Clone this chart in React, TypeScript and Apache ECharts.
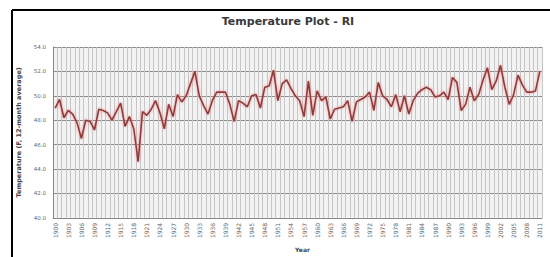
import React, { useEffect, useRef } from "react";
import * as echarts from "echarts";

const startYear = 1900;
const temps: number[] = [
  49.0, 49.7, 48.2, 48.8, 48.5, 47.8, 46.5, 48.0, 47.9, 47.2,
  48.9, 48.8, 48.6, 48.0, 48.7, 49.4, 47.5, 48.3, 47.3, 44.6,
  48.7, 48.4, 48.9, 49.6, 48.6, 47.3, 49.3, 48.3, 50.1, 49.5,
  50.0, 51.0, 52.0, 50.0, 49.2, 48.5, 49.6, 50.3, 50.3, 50.3,
  49.3, 47.9, 49.6, 49.4, 49.1, 50.0, 50.1, 49.0, 50.7, 50.8,
  52.1, 49.6, 51.0, 51.3, 50.6, 50.0, 49.6, 48.3, 51.2, 48.4,
  50.4, 49.6, 49.9, 48.1, 48.9, 49.0, 49.1, 49.6, 47.9, 49.5,
  49.7, 49.9, 50.3, 48.8, 51.1, 50.0, 49.7, 49.1, 50.1, 48.7,
  50.0, 48.5, 49.6, 50.2, 50.5, 50.7, 50.5, 49.9, 50.0, 50.3,
  49.7, 51.5, 51.1, 48.8, 49.3, 50.7, 49.6, 50.1, 51.3, 52.3,
  50.5, 51.2, 52.5, 50.7, 49.3, 50.1, 51.7, 50.9, 50.3, 50.3,
  50.4, 52.0,
];
const years: string[] = temps.map((_, i) => String(startYear + i));
const yTicks = { min: 40, max: 54, interval: 2 };
const titleText = "Temperature Plot - RI";
const yName = "Temperature (F, 12-month average)";
const xName = "Year";

export default function App() {
  const ref = useRef<HTMLDivElement>(null);
  useEffect(() => {
    if (!ref.current) return;
    const chart = echarts.init(ref.current, undefined, { renderer: "svg" });
    chart.setOption({
      animation: false,
      backgroundColor: "#ffffff",
      title: {
        text: titleText,
        left: 283,
        textAlign: "center",
        top: 11,
        textStyle: { fontFamily: "DejaVu Sans", fontSize: 11, fontWeight: "bold", color: "#3a3a3a" },
      },
      graphic: [
        { type: "line", shape: { x1: 12, y1: 10, x2: 550, y2: 10 }, style: { stroke: "#000", lineWidth: 2 } },
        { type: "line", shape: { x1: 12, y1: 10, x2: 12, y2: 257 }, style: { stroke: "#000", lineWidth: 2 } },
      ],
      grid: { left: 53, right: 8, top: 47, bottom: 35, show: true, backgroundColor: "#f3f3f3", borderWidth: 0 },
      xAxis: {
        type: "category",
        data: years,
        boundaryGap: true,
        name: xName,
        nameLocation: "middle",
        nameGap: 27,
        nameTextStyle: { fontFamily: "DejaVu Sans", fontSize: 6, fontWeight: "bold", color: "#444", padding: [0, 0, 0, 10] },
        axisLine: { lineStyle: { color: "#888", width: 1 } },
        axisTick: { show: false },
        axisLabel: { interval: 2, rotate: 90, fontSize: 6, color: "#666", fontFamily: "DejaVu Sans", margin: 5 },
        splitLine: { show: true, interval: 0, lineStyle: { color: "#c6c6c6", width: 1 } },
      },
      yAxis: {
        type: "value",
        min: yTicks.min,
        max: yTicks.max,
        interval: yTicks.interval,
        name: yName,
        nameLocation: "middle",
        nameGap: 20,
        nameTextStyle: { fontFamily: "DejaVu Sans", fontSize: 6.5, fontWeight: "bold", color: "#444" },
        axisLine: { show: true, lineStyle: { color: "#888" } },
        axisTick: { show: false },
        axisLabel: { fontSize: 5.5, color: "#666", fontFamily: "DejaVu Sans", margin: 7, formatter: (v: number) => v.toFixed(1) },
        splitLine: { show: true, lineStyle: { color: "#8c8c8c", width: 1 } },
      },
      series: [
        {
          type: "line",
          data: temps,
          symbol: "none",
          lineStyle: {
            color: "#8f3a3a",
            width: 1.6,
            shadowColor: "rgba(235,120,120,0.8)",
            shadowBlur: 3,
          },
        },
      ],
    });
    return () => chart.dispose();
  }, []);
  return <div ref={ref} style={{ position: "fixed", left: 0, top: 0, width: 550, height: 257 }} />;
}
